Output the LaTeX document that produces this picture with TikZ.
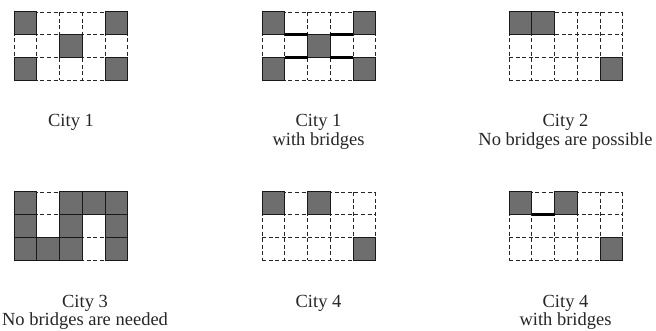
\documentclass[tikz,border=0pt]{standalone}
\usepackage{fontspec}
\setmainfont{Liberation Serif}
\definecolor{cellgray}{RGB}{110,110,110}
\tikzset{
  gridline/.style={line width=0.9pt, dash pattern=on 4pt off 2.6pt, black!85},
  cellbox/.style={fill=cellgray, draw=black!90, line width=1pt},
  bridge/.style={line width=3pt, black},
  lbl/.style={font=\fontsize{18.5}{18.5}\selectfont, align=center, anchor=base, inner sep=0pt, text=black!85}
}
\newcommand\citygrid[3]{%
  \begin{scope}[shift={(#1,#2)}]
    \foreach \i in {0,...,5} \draw[gridline] (\i*22.75,0) -- (\i*22.75,68);
    \foreach \j in {0,...,3} \draw[gridline] (0,\j*22.67) -- (113.75,\j*22.67);
    \foreach \r/\c in {#3} \draw[cellbox] (\c*22.75,\r*22.67) rectangle ++(22.75,22.67);
  \end{scope}}
\begin{document}
\begin{tikzpicture}[x=1pt,y=-1pt]
  \useasboundingbox (0,0) rectangle (656,331);
  % row 1
  \citygrid{14}{12}{0/0,0/4,1/2,2/0,2/4}
  \citygrid{262}{12}{0/0,0/4,1/2,2/0,2/4}
  \citygrid{509}{12}{0/0,0/1,2/4}
  % bridges city 1
  \begin{scope}[shift={(262,12)}]
    \coordinate (b1a) at (22.75,22.67); \coordinate (b1b) at (45.5,22.67);
    \coordinate (b2a) at (68.25,22.67); \coordinate (b2b) at (91,22.67);
    \coordinate (b3a) at (22.75,45.33); \coordinate (b3b) at (45.5,45.33);
    \coordinate (b4a) at (68.25,45.33); \coordinate (b4b) at (91,45.33);
  \end{scope}
  \draw[bridge] (b1a) -- (b1b);
  \draw[bridge] (b2a) -- (b2b);
  \draw[bridge] (b3a) -- (b3b);
  \draw[bridge] (b4a) -- (b4b);
  % row 2
  \citygrid{14}{192}{0/0,0/2,0/3,0/4,1/0,1/2,1/4,2/0,2/1,2/2,2/4}
  \citygrid{262}{192}{0/0,0/2,2/4}
  \citygrid{509}{192}{0/0,0/2,2/4}
  % bridge city 4
  \begin{scope}[shift={(509,192)}]
    \coordinate (b5a) at (22.75,22.67); \coordinate (b5b) at (45.5,22.67);
  \end{scope}
  \draw[bridge] (b5a) -- (b5b);
  % labels (base anchor = baseline of last line)
  \node[lbl] (l1) at (71,127) {City 1};
  \node[lbl] (l2) at (318.5,145.5) {City 1\\with bridges};
  \node[lbl] (l3) at (565.5,145.5) {City 2\\No bridges are possible};
  \node[lbl] (l4) at (85,325.5) {City 3\\No bridges are needed};
  \node[lbl] (l5) at (318.5,307) {City 4};
  \node[lbl] (l6) at (565.5,325.5) {City 4\\with bridges};
\end{tikzpicture}
\end{document}
